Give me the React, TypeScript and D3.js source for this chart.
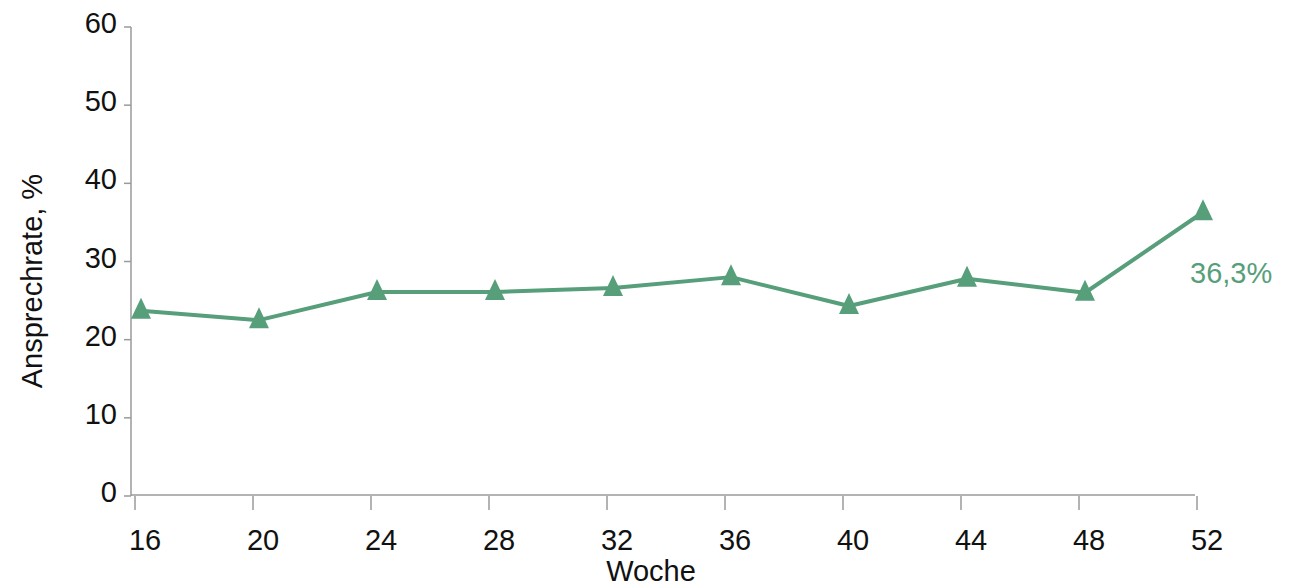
import React from "react";
import * as d3 from "d3";

// Response rate by study week
const weeks = [16, 20, 24, 28, 32, 36, 40, 44, 48, 52];
const responseRate = [23.7, 22.5, 26.1, 26.1, 26.6, 28.0, 24.3, 27.8, 26.0, 36.3];
const yTicks = [0, 10, 20, 30, 40, 50, 60];
const lastLabel = "36,3%";

const W = 1301;
const H = 588;
const GREEN = "#579e7b";
const AXIS = "#9a9a9a";
const FONT = "Liberation Sans, Arial, sans-serif";

export default function App() {
  const x = d3.scaleLinear().domain([16, 52]).range([141, 1203]);
  const y = d3.scaleLinear().domain([0, 60]).range([496, 27]);

  const line = d3
    .line<number>()
    .x((_, i) => x(weeks[i]))
    .y((d) => y(d));

  const tri = "M0,-13L10,8L-10,8Z";
  const lastX = x(weeks[weeks.length - 1]);
  const lastY = y(responseRate[responseRate.length - 1]);

  return (
    <svg
      width={W}
      height={H}
      style={{ position: "absolute", left: 0, top: 0, background: "#fff" }}
      fontFamily={FONT}
    >
      {/* y axis */}
      <line x1={131} x2={131} y1={y(60)} y2={y(0)} stroke={AXIS} strokeWidth={1.5} />
      {yTicks.map((t) => (
        <g key={t} transform={`translate(0,${y(t)})`}>
          <line x1={124} x2={131} stroke={AXIS} strokeWidth={1.5} />
          <text x={117} dy={-4} dominantBaseline="central" textAnchor="end" fontSize={29} fill="#111">
            {t}
          </text>
        </g>
      ))}
      <text
        transform={`translate(42,${y(27.5)}) rotate(-90)`}
        textAnchor="middle"
        fontSize={29}
        fill="#111"
      >
        Ansprechrate, %
      </text>

      {/* x axis */}
      <line x1={131} x2={1195} y1={y(0) - 1} y2={y(0) - 1} stroke={AXIS} strokeWidth={1.5} />
      {weeks.map((w) => (
        <g key={w} transform={`translate(${x(w) - 6},0)`}>
          <line y1={y(0)} y2={y(0) + 14} stroke={AXIS} strokeWidth={1.5} />
          <text x={10} y={y(0) + 54} textAnchor="middle" fontSize={29} fill="#111">
            {w}
          </text>
        </g>
      ))}
      <text x={651} y={581} textAnchor="middle" fontSize={29} fill="#111">
        Woche
      </text>

      {/* series */}
      <path d={line(responseRate) ?? ""} fill="none" stroke={GREEN} strokeWidth={4} strokeLinejoin="round" />
      {responseRate.map((v, i) => (
        <path key={weeks[i]} d={tri} transform={`translate(${x(weeks[i])},${y(v)})`} fill={GREEN} />
      ))}
      <text x={lastX - 13} y={lastY + 71} fontSize={29} fill={GREEN}>
        {lastLabel}
      </text>
    </svg>
  );
}
